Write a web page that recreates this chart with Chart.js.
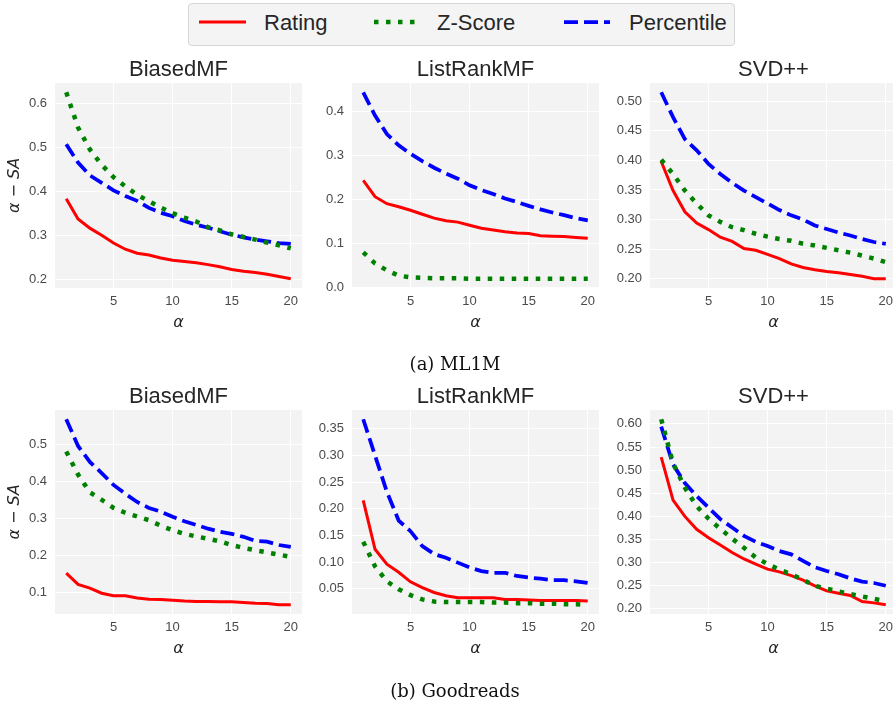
<!DOCTYPE html>
<html>
<head>
<meta charset="utf-8">
<script src="https://cdn.jsdelivr.net/npm/chart.js@4.4.0/dist/chart.umd.min.js"></script>
<style>
  body { margin: 0; width: 893px; height: 707px; overflow: hidden; background: #fff; position: relative; font-family: "Liberation Sans", Arial, sans-serif; }
  .caja { position: absolute; }
  #leyenda { position: absolute; left: 188px; top: 3px; width: 545px; height: 41px; background: #f4f4f4; border: 1px solid #d6d6d6; border-radius: 4px; }
  .item { position: absolute; top: -2px; height: 41px; line-height: 41px; font-size: 22px; color: #262626; white-space: nowrap; }
  .muestra { position: absolute; top: 15px; }
  .caption { position: absolute; left: 305px; width: 300px; text-align: center; font-family: "DejaVu Serif", serif; font-size: 18px; color: #111; }
</style>
</head>
<body>
<div id="leyenda">
  <svg class="muestra" style="left:10px" width="47" height="6"><line x1="0" y1="3" x2="47" y2="3" stroke="#ff0000" stroke-width="3"/></svg>
  <span class="item" style="left:75px">Rating</span>
  <svg class="muestra" style="left:185px" width="42" height="6"><line x1="0" y1="3" x2="42" y2="3" stroke="#008000" stroke-width="4.5" stroke-dasharray="4.5 7.5"/></svg>
  <span class="item" style="left:248px">Z-Score</span>
  <svg class="muestra" style="left:375px" width="46" height="6"><line x1="0" y1="3" x2="46" y2="3" stroke="#0000ff" stroke-width="3.75" stroke-dasharray="14 6"/></svg>
  <span class="item" style="left:440px">Percentile</span>
</div>
<div id="graficos"></div>
<div class="caption" style="top:353px">(a) ML1M</div>
<div class="caption" style="top:680px">(b) Goodreads</div>
<script>
// valores de alpha (eje x)
const alpha = [1, 2, 3, 4, 5, 6, 7, 8, 9, 10, 11, 12, 13, 14, 15, 16, 17, 18, 19, 20]
const xTicks = [5, 10, 15, 20]

// ML1M
const ml1mBiasedRating = [0.383, 0.337, 0.316, 0.300, 0.282, 0.268, 0.259, 0.255, 0.248, 0.243, 0.240, 0.237, 0.233, 0.228, 0.222, 0.218, 0.215, 0.211, 0.206, 0.201]
const ml1mBiasedZ = [0.625, 0.545, 0.495, 0.460, 0.432, 0.411, 0.392, 0.377, 0.363, 0.350, 0.340, 0.331, 0.318, 0.311, 0.302, 0.296, 0.290, 0.283, 0.277, 0.270]
const ml1mBiasedPct = [0.507, 0.465, 0.436, 0.419, 0.402, 0.389, 0.378, 0.362, 0.351, 0.343, 0.332, 0.324, 0.317, 0.309, 0.301, 0.295, 0.290, 0.286, 0.282, 0.280]

const ml1mListRating = [0.243, 0.206, 0.190, 0.183, 0.175, 0.166, 0.157, 0.151, 0.148, 0.141, 0.134, 0.130, 0.126, 0.123, 0.122, 0.117, 0.116, 0.115, 0.113, 0.111]
const ml1mListZ = [0.079, 0.054, 0.038, 0.026, 0.022, 0.021, 0.020, 0.020, 0.020, 0.019, 0.019, 0.019, 0.019, 0.019, 0.019, 0.019, 0.019, 0.019, 0.019, 0.019]
const ml1mListPct = [0.444, 0.391, 0.349, 0.323, 0.304, 0.287, 0.272, 0.259, 0.247, 0.232, 0.221, 0.212, 0.202, 0.194, 0.185, 0.177, 0.170, 0.164, 0.157, 0.152]

const ml1mSvdRating = [0.398, 0.349, 0.313, 0.294, 0.283, 0.270, 0.263, 0.251, 0.248, 0.241, 0.234, 0.225, 0.219, 0.215, 0.212, 0.210, 0.207, 0.204, 0.200, 0.200]
const ml1mSvdZ = [0.401, 0.377, 0.349, 0.327, 0.307, 0.296, 0.287, 0.282, 0.276, 0.271, 0.267, 0.264, 0.259, 0.256, 0.252, 0.248, 0.244, 0.239, 0.234, 0.228]
const ml1mSvdPct = [0.515, 0.473, 0.436, 0.417, 0.394, 0.377, 0.362, 0.349, 0.338, 0.327, 0.316, 0.307, 0.300, 0.290, 0.284, 0.278, 0.273, 0.267, 0.262, 0.259]

// Goodreads
const grBiasedRating = [0.152, 0.122, 0.112, 0.098, 0.091, 0.091, 0.085, 0.082, 0.081, 0.079, 0.077, 0.076, 0.076, 0.075, 0.075, 0.073, 0.071, 0.070, 0.067, 0.067]
const grBiasedZ = [0.480, 0.418, 0.370, 0.350, 0.328, 0.315, 0.305, 0.295, 0.280, 0.268, 0.258, 0.251, 0.245, 0.238, 0.228, 0.220, 0.214, 0.208, 0.202, 0.196]
const grBiasedPct = [0.567, 0.495, 0.452, 0.422, 0.390, 0.366, 0.344, 0.328, 0.318, 0.304, 0.292, 0.282, 0.272, 0.264, 0.258, 0.250, 0.239, 0.237, 0.228, 0.223]

const grListRating = [0.216, 0.124, 0.096, 0.081, 0.063, 0.052, 0.043, 0.037, 0.033, 0.033, 0.033, 0.033, 0.030, 0.030, 0.029, 0.028, 0.028, 0.028, 0.028, 0.027]
const grListZ = [0.138, 0.092, 0.064, 0.049, 0.038, 0.030, 0.026, 0.025, 0.025, 0.025, 0.025, 0.024, 0.024, 0.023, 0.023, 0.022, 0.022, 0.021, 0.021, 0.020]
const grListPct = [0.368, 0.300, 0.232, 0.178, 0.158, 0.130, 0.115, 0.108, 0.099, 0.090, 0.083, 0.080, 0.080, 0.074, 0.071, 0.069, 0.066, 0.066, 0.064, 0.061]

const grSvdRating = [0.528, 0.435, 0.400, 0.372, 0.354, 0.338, 0.322, 0.308, 0.297, 0.286, 0.280, 0.272, 0.262, 0.250, 0.239, 0.234, 0.229, 0.216, 0.213, 0.209]
const grSvdZ = [0.610, 0.515, 0.462, 0.422, 0.395, 0.373, 0.352, 0.332, 0.311, 0.297, 0.285, 0.275, 0.263, 0.250, 0.244, 0.238, 0.232, 0.227, 0.222, 0.216]
const grSvdPct = [0.594, 0.512, 0.472, 0.444, 0.419, 0.394, 0.376, 0.358, 0.345, 0.336, 0.325, 0.318, 0.304, 0.290, 0.282, 0.275, 0.266, 0.259, 0.256, 0.250]

// etiquetas del eje y
const ticksMl1mBiased = [0.2, 0.3, 0.4, 0.5, 0.6]
const ticksMl1mList = [0.0, 0.1, 0.2, 0.3, 0.4]
const ticksMl1mSvd = [0.20, 0.25, 0.30, 0.35, 0.40, 0.45, 0.50]
const ticksGrBiased = [0.1, 0.2, 0.3, 0.4, 0.5]
const ticksGrList = [0.05, 0.10, 0.15, 0.20, 0.25, 0.30, 0.35]
const ticksGrSvd = [0.20, 0.25, 0.30, 0.35, 0.40, 0.45, 0.50, 0.55, 0.60]

const graficos = [
  { titulo: 'BiasedMF', col: 0, fila: 0, rating: ml1mBiasedRating, z: ml1mBiasedZ, pct: ml1mBiasedPct, ticks: ticksMl1mBiased, dec: 1 },
  { titulo: 'ListRankMF', col: 1, fila: 0, rating: ml1mListRating, z: ml1mListZ, pct: ml1mListPct, ticks: ticksMl1mList, dec: 1 },
  { titulo: 'SVD++', col: 2, fila: 0, rating: ml1mSvdRating, z: ml1mSvdZ, pct: ml1mSvdPct, ticks: ticksMl1mSvd, dec: 2 },
  { titulo: 'BiasedMF', col: 0, fila: 1, rating: grBiasedRating, z: grBiasedZ, pct: grBiasedPct, ticks: ticksGrBiased, dec: 1 },
  { titulo: 'ListRankMF', col: 1, fila: 1, rating: grListRating, z: grListZ, pct: grListPct, ticks: ticksGrList, dec: 2 },
  { titulo: 'SVD++', col: 2, fila: 1, rating: grSvdRating, z: grSvdZ, pct: grSvdPct, ticks: ticksGrSvd, dec: 2 },
]

const colLeft = [55, 352, 650]
const filaTop = [83, 410]
const filaAlto = [205, 204]
const anchoPlot = 247
const ejeY = 55
const altoTitulo = 26
const ejeX = 44

const fondoPlot = {
  id: 'fondoPlot',
  beforeDraw: (chart) => {
    const { ctx, chartArea: a } = chart
    ctx.save()
    ctx.fillStyle = '#f3f3f3'
    ctx.fillRect(a.left, a.top, a.right - a.left, a.bottom - a.top)
    ctx.restore()
  }
}

const contenedor = document.querySelector('#graficos')

const toPts = (serie) => serie.map((v, i) => ({ x: alpha[i], y: v }))

graficos.forEach((g) => {
  const ancho = ejeY + anchoPlot + 10
  const alto = altoTitulo + filaAlto[g.fila] + ejeX
  const div = document.createElement('div')
  div.className = 'caja'
  div.style.left = (colLeft[g.col] - ejeY) + 'px'
  div.style.top = (filaTop[g.fila] - altoTitulo) + 'px'
  const canvas = document.createElement('canvas')
  canvas.width = ancho
  canvas.height = alto
  canvas.style.width = ancho + 'px'
  canvas.style.height = alto + 'px'
  div.appendChild(canvas)
  contenedor.appendChild(div)

  // margen del 5% como matplotlib
  const todos = [...g.rating, ...g.z, ...g.pct]
  const lo = Math.min(...todos)
  const hi = Math.max(...todos)
  const m = (hi - lo) * 0.05

  new Chart(canvas, {
    type: 'line',
    data: {
      datasets: [
        { label: 'Rating', data: toPts(g.rating), borderColor: '#ff0000', borderWidth: 3, order: 3 },
        { label: 'Z-Score', data: toPts(g.z), borderColor: '#008000', borderWidth: 4.5, borderDash: [4.5, 7.5], order: 1 },
        { label: 'Percentile', data: toPts(g.pct), borderColor: '#0000ff', borderWidth: 3.75, borderDash: [14, 6], order: 2 },
      ]
    },
    options: {
      responsive: false,
      animation: false,
      devicePixelRatio: 1,
      elements: { point: { radius: 0 }, line: { tension: 0, fill: false } },
      layout: { padding: { top: 0, left: 0, right: 10, bottom: 0 } },
      plugins: {
        legend: { display: false },
        tooltip: { enabled: false },
        title: {
          display: true,
          text: g.titulo,
          fullSize: false,
          color: '#262626',
          padding: 0,
          font: { family: 'Liberation Sans', size: 22, weight: 'normal', lineHeight: '26px' }
        }
      },
      scales: {
        x: {
          type: 'linear',
          min: 0.05,
          max: 20.95,
          grid: { color: '#ffffff', lineWidth: 1, drawTicks: false },
          border: { display: false },
          ticks: { color: '#4a4a4a', padding: 6, font: { family: 'Liberation Sans', size: 13 } },
          title: { display: true, text: 'α', color: '#262626', padding: 0, font: { family: 'DejaVu Sans', size: 16, style: 'italic' } },
          afterBuildTicks: (s) => { s.ticks = xTicks.map(v => ({ value: v })) },
          afterFit: (s) => { s.height = ejeX; s.paddingLeft = 0; s.paddingRight = 0 }
        },
        y: {
          min: lo - m,
          max: hi + m,
          grid: { color: '#ffffff', lineWidth: 1, drawTicks: false },
          border: { display: false },
          ticks: { color: '#4a4a4a', padding: 8, font: { family: 'Liberation Sans', size: 13 }, callback: (v) => v.toFixed(g.dec) },
          title: { display: g.col === 0, text: 'α − SA', color: '#262626', padding: { top: 5, bottom: 0 }, font: { family: 'DejaVu Sans', size: 16, style: 'italic' } },
          afterBuildTicks: (s) => { s.ticks = g.ticks.map(v => ({ value: v })) },
          afterFit: (s) => { s.width = ejeY; s.paddingTop = 0; s.paddingBottom = 0 }
        }
      }
    },
    plugins: [fondoPlot]
  })
})
</script>
</body>
</html>
